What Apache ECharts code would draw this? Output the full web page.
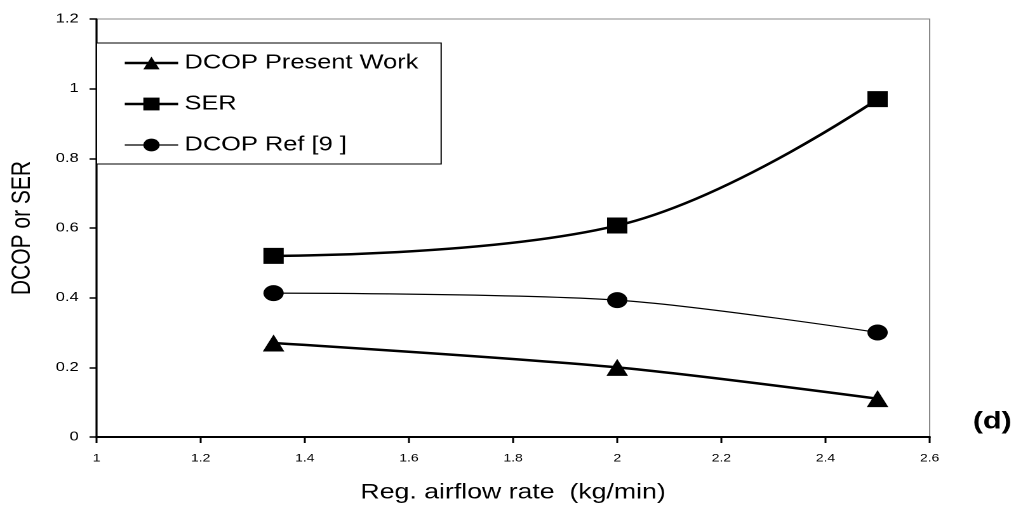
<!DOCTYPE html>
<html style="height: 100%">
  <head>
    <meta charset="utf-8" />
    <script src="https://cdn.jsdelivr.net/npm/echarts@6/dist/echarts.min.js"></script>
    <title>DCOP and SER vs airflow rate</title>
  </head>
  <body style="height: 100%; margin: 0; background: #fff; overflow: hidden">
    <!-- the original figure is stretched sideways, so the chart is drawn narrow and widened -->
    <div id="container" style="width: 803px; height: 506px; transform: scaleX(1.27); transform-origin: 0 0"></div>
    <script type="text/javascript">
      // airflow rate (kg/min)
      let airflow = [1.34, 2.0, 2.5];
      // series values
      let dcopPresent = [0.27, 0.2, 0.11];
      let ser = [0.52, 0.607, 0.97];
      let dcopRef = [0.413, 0.393, 0.3];
      let seriesNames = ["DCOP Present Work", "SER", "DCOP Ref [9 ]"];
      let lineWidths = [2.5, 2.5, 1.2];

      let pairs = (ys) => airflow.map((x, i) => [x, ys[i]]);
      let font = "Liberation Sans, Arial, sans-serif";

      let dom = document.getElementById("container");
      let chart = echarts.init(dom, null, { devicePixelRatio: 2 });
      chart.setOption({
        animation: false,
        textStyle: { fontFamily: font, color: "#000" },
        grid: {
          left: 76, right: 71, top: 19, bottom: 69,
          outerBoundsMode: "none", containLabel: false,
          show: true, borderColor: "#888", borderWidth: 1
        },
        legend: {
          orient: "vertical",
          left: 76, top: 43,
          backgroundColor: "#fff",
          borderColor: "#000", borderWidth: 1, borderRadius: 0,
          padding: [10, 18, 9, 21],
          itemWidth: 42, itemHeight: 16, itemGap: 21,
          textStyle: { fontSize: 20, color: "#000", fontFamily: font },
          data: seriesNames.map((n, i) => ({
            name: n,
            lineStyle: { width: lineWidths[i], color: "#000" }
          }))
        },
        xAxis: {
          type: "value",
          min: 1, max: 2.6, interval: 0.2,
          name: "Reg. airflow rate  (kg/min)",
          nameLocation: "middle", nameGap: 45,
          nameTextStyle: { fontSize: 21, color: "#000" },
          axisLine: { show: true, onZero: false, lineStyle: { color: "#000", width: 2 } },
          axisTick: { show: true, inside: false, length: 6, lineStyle: { color: "#000", width: 1.5 } },
          axisLabel: { fontSize: 11, color: "#000", margin: 16 },
          splitLine: { show: false }
        },
        yAxis: {
          type: "value",
          min: 0, max: 1.2, interval: 0.2,
          name: "DCOP or SER",
          nameLocation: "middle", nameGap: 48,
          nameTextStyle: { fontSize: 21, color: "#000" },
          axisLine: { show: true, onZero: false, lineStyle: { color: "#000", width: 1.6 } },
          axisTick: { show: true, length: 5.5, lineStyle: { color: "#000", width: 1.5 } },
          axisLabel: { fontSize: 13, color: "#000", margin: 14 },
          splitLine: { show: false }
        },
        graphic: [
          {
            type: "text", left: 766, top: 410,
            style: { text: "(d)", font: "bold 24px " + font, fill: "#000" }
          }
        ],
        series: [
          {
            name: seriesNames[0], type: "line", smooth: 0.3,
            data: pairs(dcopPresent),
            symbol: "triangle", symbolSize: 17,
            itemStyle: { color: "#000" },
            lineStyle: { color: "#000", width: lineWidths[0] }
          },
          {
            name: seriesNames[1], type: "line", smooth: 0.4,
            data: pairs(ser),
            symbol: "rect", symbolSize: 16,
            itemStyle: { color: "#000" },
            lineStyle: { color: "#000", width: lineWidths[1] }
          },
          {
            name: seriesNames[2], type: "line", smooth: 0.3,
            data: pairs(dcopRef),
            symbol: "circle", symbolSize: 16,
            itemStyle: { color: "#000" },
            lineStyle: { color: "#000", width: lineWidths[2] }
          }
        ]
      });
    </script>
  </body>
</html>
